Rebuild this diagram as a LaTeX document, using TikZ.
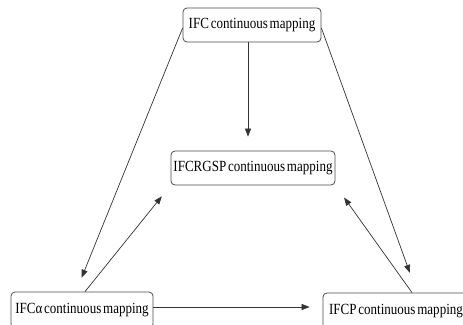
\documentclass[tikz,border=0pt]{standalone}
\usepackage{fontspec}
\setmainfont{Liberation Serif}[FakeStretch=0.84,WordSpace=0.55]
\usetikzlibrary{arrows.meta,calc}
\begin{document}
\begin{tikzpicture}[x=1pt,y=-1pt,
  box/.style={draw=black!70,line width=0.8pt,rounded corners=4pt,inner sep=0pt,
    minimum height=34pt,font=\fontsize{15.5}{17}\selectfont},
  link/.style={draw=black!80,line width=0.7pt,-{Triangle[length=8pt,width=6pt]}}]
\useasboundingbox (0,0) rectangle (463,324);
\clip (0,0) rectangle (463,324);
\fill[white] (0,0) rectangle (463,324);
\node[box,minimum width=138pt] (top) at (252,25) {IFC continuous mapping};
\node[box,minimum width=164pt] (mid) at (253,168) {IFCRGSP continuous mapping};
\node[box,minimum width=142pt,minimum height=36pt] (bl) at (82,310) {IFC\char"03B1\ continuous mapping};
\node[box,minimum width=146pt,minimum height=36pt] (br) at (396,311) {IFCP continuous mapping};
\draw[link,shorten >=14pt] ([xshift=-4pt]top.south) -- ([xshift=-5pt]mid.north);
\draw[link,shorten >=15pt] ([yshift=-3pt]top.west) -- ([xshift=-6pt]bl.north);
\draw[link,shorten >=14pt] ([xshift=3pt]bl.north) -- (mid.south west);
\draw[link,shorten >=21pt] ([yshift=-3pt]top.east) -- ([xshift=21pt]br.north);
\draw[link,shorten >=15pt] ([xshift=16pt]br.north) -- (mid.south east);
\draw[link,shorten >=13pt] ([yshift=3pt]bl.east) -- ([yshift=4pt]br.west);
\end{tikzpicture}
\end{document}
